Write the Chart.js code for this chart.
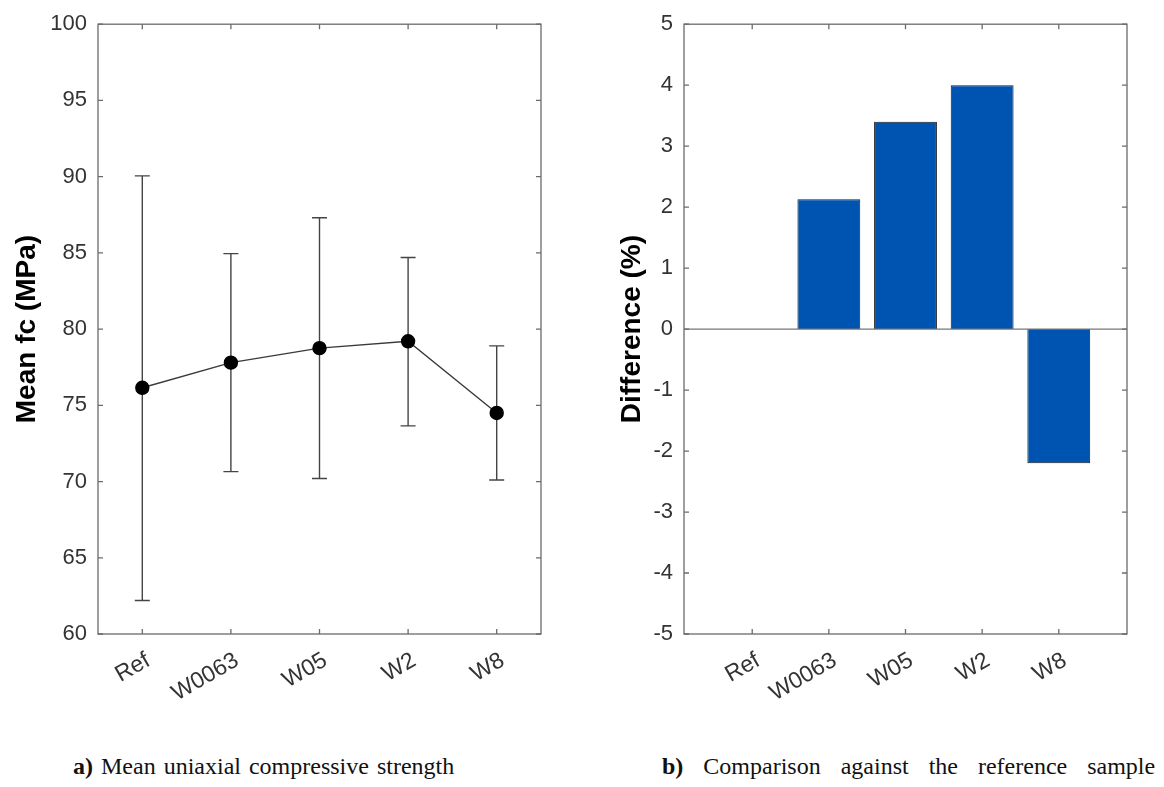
<!DOCTYPE html>
<html lang="en">
<head>
    <meta charset="UTF-8">
    <title>Compressive strength</title>
    <style>
        body {
            margin: 0;
            background: #fff;
            width: 1164px;
            height: 787px;
            position: relative;
            overflow: hidden;
        }
        .panel {
            position: absolute;
            top: 0;
            width: 582px;
            height: 720px;
        }
        .caption {
            position: absolute;
            top: 754px;
            font-family: "Liberation Serif", "Times New Roman", serif;
            font-size: 24px;
            line-height: 1;
            color: #111;
            white-space: nowrap;
        }
    </style>
</head>
<body>
<div class="panel" style="left:0"><canvas id="meanChart"></canvas></div>
<div class="panel" style="left:582px"><canvas id="diffChart"></canvas></div>
<div class="caption" style="left:73px; word-spacing:2px"><b>a)</b> Mean uniaxial compressive strength</div>
<div class="caption" style="left:662px; word-spacing:14px"><b>b)</b> Comparison against the reference sample</div>

<script src="https://cdn.jsdelivr.net/npm/chart.js"></script>
<script>
// data
const samples = ['Ref', 'W0063', 'W05', 'W2', 'W8'];
const meanFc = [76.15, 77.8, 78.75, 79.2, 74.5];
const fcUpper = [90.05, 84.95, 87.3, 84.7, 78.9];
const fcLower = [62.2, 70.65, 70.2, 73.65, 70.1];
const diffPct = [0, 2.13, 3.4, 4.0, -2.2];
const fcTicks = [60, 65, 70, 75, 80, 85, 90, 95, 100];
const diffTicks = [-5, -4, -3, -2, -1, 0, 1, 2, 3, 4, 5];

const axisGrey = '#6b6b6b';
const labelFont = { family: 'Liberation Sans, Arial, sans-serif', size: 22 };
const catFont = { family: 'Liberation Sans, Arial, sans-serif', size: 23 };
const titleFont = { family: 'Liberation Sans, Arial, sans-serif', size: 28, weight: 'bold' };

// MATLAB style box with inward ticks on all four sides
const boxPlugin = {
    id: 'box',
    afterDraw(chart) {
        const { ctx, chartArea: a, scales } = chart;
        const len = 5;
        ctx.save();
        ctx.strokeStyle = axisGrey;
        ctx.lineWidth = 1.3;
        ctx.strokeRect(a.left, a.top, a.right - a.left, a.bottom - a.top);
        ctx.beginPath();
        scales.x.ticks.forEach((t, i) => {
            const px = scales.x.getPixelForTick(i);
            ctx.moveTo(px, a.bottom); ctx.lineTo(px, a.bottom - len);
            ctx.moveTo(px, a.top); ctx.lineTo(px, a.top + len);
        });
        scales.y.ticks.forEach((t, i) => {
            const py = scales.y.getPixelForTick(i);
            ctx.moveTo(a.left, py); ctx.lineTo(a.left + len, py);
            ctx.moveTo(a.right, py); ctx.lineTo(a.right - len, py);
        });
        ctx.stroke();
        ctx.restore();
    }
};

// vertical error bars with caps, drawn through the chart scales
const errorBarPlugin = {
    id: 'errorBars',
    beforeDatasetsDraw(chart) {
        const { ctx, scales: { x, y } } = chart;
        const cap = 7.5;
        ctx.save();
        ctx.strokeStyle = '#444';
        ctx.lineWidth = 1.4;
        ctx.beginPath();
        samples.forEach((s, i) => {
            const px = x.getPixelForValue(i);
            const top = y.getPixelForValue(fcUpper[i]);
            const bot = y.getPixelForValue(fcLower[i]);
            ctx.moveTo(px, top); ctx.lineTo(px, bot);
            ctx.moveTo(px - cap, top); ctx.lineTo(px + cap, top);
            ctx.moveTo(px - cap, bot); ctx.lineTo(px + cap, bot);
        });
        ctx.stroke();
        ctx.restore();
    }
};

// horizontal baseline at zero for the bar chart
const zeroLinePlugin = {
    id: 'zeroLine',
    afterDatasetsDraw(chart) {
        const { ctx, chartArea: a, scales: { y } } = chart;
        const py = y.getPixelForValue(0);
        ctx.save();
        ctx.strokeStyle = '#777';
        ctx.lineWidth = 1.3;
        ctx.beginPath();
        ctx.moveTo(a.left, py);
        ctx.lineTo(a.right, py);
        ctx.stroke();
        ctx.restore();
    }
};

Chart.defaults.animation = false;
Chart.defaults.responsive = true;
Chart.defaults.maintainAspectRatio = false;
Chart.defaults.plugins.legend.display = false;
Chart.defaults.plugins.tooltip.enabled = false;

new Chart(document.getElementById('meanChart'), {
    type: 'line',
    data: {
        labels: samples,
        datasets: [{
            data: meanFc,
            borderColor: '#3a3a3a',
            borderWidth: 1.4,
            pointRadius: 6.5,
            pointBackgroundColor: '#000',
            pointBorderColor: '#000',
            tension: 0
        }]
    },
    options: {
        layout: { padding: { top: 20, right: 41, left: 0, bottom: 0 } },
        scales: {
            x: {
                type: 'category',
                offset: true,
                grid: { display: false, drawTicks: false },
                border: { display: false },
                ticks: { font: catFont, color: '#333', minRotation: 30, maxRotation: 30, padding: 13, labelOffset: 6 },
                afterFit(s) { s.height = 86; }
            },
            y: {
                min: 60,
                max: 100,
                afterBuildTicks(s) { s.ticks = fcTicks.map(v => ({ value: v })); },
                grid: { display: false, drawTicks: false },
                border: { display: false },
                ticks: { font: labelFont, color: '#333', padding: 11 },
                title: { display: true, text: 'Mean fc (MPa)', font: titleFont, color: '#000', padding: { top: 10, bottom: 0 } },
                afterFit(s) { s.width = 98; }
            }
        }
    },
    plugins: [errorBarPlugin, boxPlugin]
});

new Chart(document.getElementById('diffChart'), {
    type: 'bar',
    data: {
        datasets: [{
            data: diffPct.map((v, i) => ({ x: i + 1, y: v })),
            backgroundColor: '#0054b1',
            borderColor: '#1b1b1b',
            borderWidth: 1,
            barPercentage: 0.82,
            categoryPercentage: 1
        }]
    },
    options: {
        layout: { padding: { top: 20, right: 37, left: 0, bottom: 0 } },
        scales: {
            x: {
                type: 'linear',
                offset: false,
                min: 0.11,
                max: 5.89,
                afterBuildTicks(s) { s.ticks = samples.map((n, i) => ({ value: i + 1 })); },
                grid: { display: false, drawTicks: false },
                border: { display: false },
                ticks: {
                    font: catFont, color: '#333', minRotation: 30, maxRotation: 30, padding: 13, labelOffset: 6,
                    callback: v => samples[v - 1]
                },
                afterFit(s) { s.height = 86; }
            },
            y: {
                min: -5,
                max: 5,
                afterBuildTicks(s) { s.ticks = diffTicks.map(v => ({ value: v })); },
                grid: { display: false, drawTicks: false },
                border: { display: false },
                ticks: { font: labelFont, color: '#333', padding: 11 },
                title: { display: true, text: 'Difference (%)', font: titleFont, color: '#000', padding: { top: 33, bottom: 0 } },
                afterFit(s) { s.width = 102; }
            }
        }
    },
    plugins: [zeroLinePlugin, boxPlugin]
});
</script>
</body>
</html>
